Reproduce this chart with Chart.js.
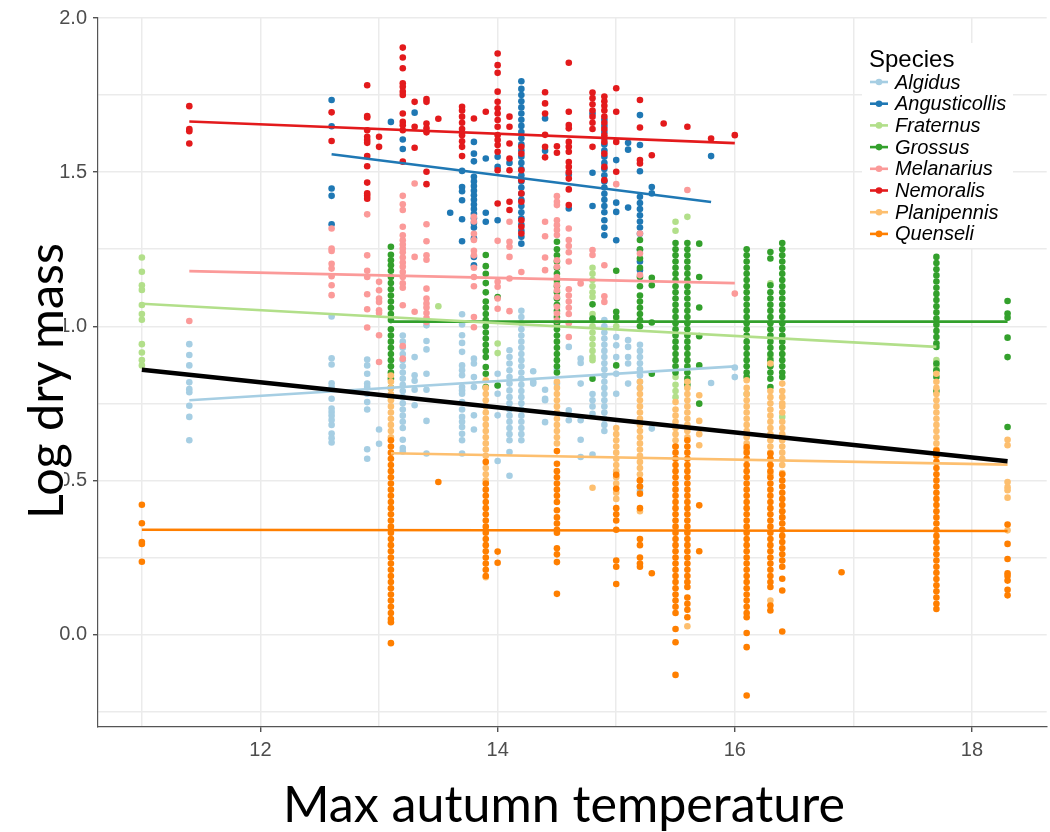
<!DOCTYPE html>
<html>
<head>
<meta charset="utf-8">
<script src="https://cdn.jsdelivr.net/npm/chart.js@4.4.1/dist/chart.umd.min.js"></script>
<style>
  html, body { margin: 0; padding: 0; background: #fff; }
  #wrap { width: 1050px; height: 832px; }
</style>
</head>
<body>
<div id="wrap"><canvas id="chart" width="1050" height="832"></canvas></div>
<script>
// Log dry mass against max autumn temperature, one column of values per site temperature

const species = ['Algidus', 'Angusticollis', 'Fraternus', 'Grossus', 'Melanarius', 'Nemoralis', 'Planipennis', 'Quenseli'];
const colors = ['#a6cee3', '#1f78b4', '#b2df8a', '#33a02c', '#fb9a99', '#e31a1c', '#fdbf6f', '#ff7f00'];

// [temperature, [log dry mass, ...]]
const algidus = [
    [11.4, [0.942, 0.907, 0.873, 0.818, 0.796, 0.786, 0.742, 0.706, 0.630]],
    [12.6, [1.032, 0.896, 0.876, 0.815, 0.803, 0.765, 0.733, 0.722, 0.710, 0.696, 0.680, 0.652, 0.637, 0.623]],
    [12.9, [0.892, 0.873, 0.846, 0.814, 0.803, 0.781, 0.754, 0.730, 0.601, 0.570]],
    [13.0, [0.665, 0.619]],
    [13.2, [0.97, 0.95, 0.93, 0.91, 0.89, 0.87, 0.85, 0.83, 0.81, 0.79, 0.77, 0.75, 0.73, 0.71, 0.69, 0.67, 0.632, 0.605, 0.594]],
    [13.3, [0.900, 0.841, 0.823, 0.794, 0.744]],
    [13.4, [1.003, 0.952, 0.925, 0.846, 0.794, 0.693, 0.587]],
    [13.7, [1.039, 1.006, 0.971, 0.946, 0.917, 0.873, 0.857, 0.841, 0.803, 0.792, 0.781, 0.754, 0.730, 0.706, 0.690, 0.673, 0.651, 0.630, 0.587]],
    [13.8, [0.895, 0.879, 0.835, 0.803, 0.711, 0.665]],
    [14.0, [0.846, 0.808, 0.781, 0.711, 0.563]],
    [14.1, [0.922, 0.900, 0.879, 0.857, 0.835, 0.814, 0.792, 0.770, 0.750, 0.730, 0.710, 0.690, 0.670, 0.650, 0.630, 0.592, 0.515]],
    [14.2, [1.05, 1.03, 1.01, 0.99, 0.97, 0.95, 0.93, 0.91, 0.89, 0.87, 0.85, 0.83, 0.81, 0.79, 0.77, 0.75, 0.73, 0.71, 0.69, 0.67, 0.65, 0.63]],
    [14.3, [0.854, 0.820, 0.814]],
    [14.4, [0.794, 0.765, 0.760, 0.689]],
    [14.5, [0.860, 0.814]],
    [14.6, [0.933, 0.727, 0.695]],
    [14.7, [0.895, 0.881, 0.814, 0.695, 0.632, 0.576]],
    [14.8, [0.780, 0.760, 0.740, 0.716, 0.584]],
    [14.9, [1.02, 1.00, 0.98, 0.96, 0.94, 0.92, 0.90, 0.88, 0.86, 0.84, 0.82, 0.80, 0.78, 0.76, 0.74, 0.72, 0.70, 0.68, 0.66]],
    [15.0, [0.965, 0.938, 0.900, 0.846, 0.781]],
    [15.1, [0.955, 0.933, 0.900, 0.879, 0.814]],
    [15.2, [0.94, 0.92, 0.90, 0.88, 0.86, 0.84, 0.82, 0.80, 0.480, 0.467]],
    [15.3, [0.668]],
    [15.8, [0.816]],
    [16.0, [0.866, 0.835]]
];

const angusticollis = [
    [12.6, [1.734, 1.649, 1.447, 1.423, 1.331]],
    [13.1, [1.663]],
    [13.2, [1.606, 1.575]],
    [13.3, [1.693]],
    [13.6, [1.368]],
    [13.7, [1.504, 1.452, 1.438, 1.409, 1.347, 1.276]],
    [13.8, [1.598, 1.560, 1.535, 1.485, 1.470, 1.455, 1.440, 1.425, 1.410, 1.395, 1.380, 1.365, 1.350, 1.335, 1.320, 1.285, 1.225, 1.198]],
    [13.9, [1.544, 1.368, 1.339]],
    [14.0, [1.550, 1.517, 1.344]],
    [14.1, [1.530]],
    [14.2, [1.795, 1.77, 1.75, 1.73, 1.71, 1.69, 1.67, 1.65, 1.63, 1.61, 1.59, 1.57, 1.55, 1.53, 1.51, 1.49, 1.47, 1.45, 1.43, 1.41, 1.39, 1.37, 1.35, 1.33, 1.31, 1.29, 1.268]],
    [14.4, [1.674, 1.569]],
    [14.6, [1.492, 1.382]],
    [14.8, [1.690, 1.498, 1.390]],
    [14.9, [1.67, 1.65, 1.63, 1.61, 1.59, 1.57, 1.55, 1.53, 1.51, 1.49, 1.47, 1.45, 1.43, 1.41, 1.39, 1.37, 1.344, 1.32, 1.295]],
    [15.0, [1.539, 1.401, 1.371, 1.279]],
    [15.1, [1.595, 1.573, 1.385]],
    [15.2, [1.685, 1.588, 1.503, 1.42, 1.40, 1.38, 1.36, 1.34, 1.32, 1.30, 1.247, 1.21, 1.182]],
    [15.3, [1.452, 1.431]],
    [15.8, [1.552]]
];

const fraternus = [
    [11.0, [1.223, 1.177, 1.133, 1.118, 1.069, 1.040, 1.021, 0.942, 0.915, 0.890, 0.873]],
    [13.5, [1.065]],
    [14.0, [0.944, 0.913]],
    [14.5, [1.140]],
    [14.8, [1.19, 1.17, 1.15, 1.13, 1.11, 1.095, 1.04, 1.02, 1.00, 0.98, 0.96, 0.94, 0.92, 0.90, 0.89]],
    [15.0, [1.02, 1.00]],
    [15.5, [1.339, 1.310, 0.835, 0.810, 0.790, 0.770]],
    [15.6, [1.355]],
    [16.1, [1.130, 0.780]],
    [16.3, [1.139, 0.900]],
    [16.4, [0.930, 0.910, 0.706]],
    [17.7, [0.890, 0.870, 0.857]]
];

const grossus = [
    [13.1, [1.258, 1.232, 1.214, 1.198, 1.18, 1.16, 1.14, 1.12, 1.10, 1.08, 1.06, 1.04, 1.02, 0.99, 0.97, 0.95, 0.93, 0.91, 0.89, 0.87, 0.85, 0.83, 0.80, 0.77]],
    [13.9, [1.231, 1.195, 1.17, 1.14, 1.11, 1.08, 1.06, 1.04, 1.02, 1.00, 0.98, 0.96, 0.94, 0.92, 0.90, 0.868, 0.846, 0.803]],
    [14.0, [1.095, 0.808]],
    [14.5, [1.274, 1.25, 1.23, 1.21, 1.19, 1.17, 1.15, 1.13, 1.11, 1.09, 1.07, 1.05, 1.03, 1.01, 0.99, 0.97, 0.95, 0.93, 0.91, 0.89, 0.87, 0.85]],
    [14.8, [1.071, 1.025, 0.830]],
    [15.0, [1.180, 1.047, 1.030, 0.873]],
    [15.2, [1.28, 1.25, 1.22, 1.19, 1.16, 1.13, 1.10, 1.08, 1.06, 1.04, 1.02, 1.00]],
    [15.3, [1.157, 1.133, 1.012, 0.846]],
    [15.5, [1.27, 1.25, 1.23, 1.21, 1.19, 1.17, 1.15, 1.13, 1.11, 1.09, 1.07, 1.05, 1.03, 1.01, 0.99, 0.97, 0.95, 0.93, 0.91, 0.89, 0.87, 0.85]],
    [15.6, [1.27, 1.25, 1.23, 1.21, 1.19, 1.17, 1.15, 1.13, 1.11, 1.09, 1.07, 1.05, 1.03, 1.01, 0.99, 0.97, 0.95, 0.93, 0.91, 0.89, 0.87, 0.85, 0.83, 0.81]],
    [15.7, [1.268, 1.160, 1.061, 0.968, 0.873, 0.749]],
    [16.1, [1.25, 1.23, 1.21, 1.19, 1.17, 1.15, 1.13, 1.11, 1.09, 1.07, 1.05, 1.03, 1.01, 0.99, 0.97, 0.95, 0.93, 0.91, 0.89, 0.87, 0.85, 0.835]],
    [16.3, [1.241, 1.220, 1.133, 1.11, 1.09, 1.07, 1.05, 1.03, 1.01, 0.99, 0.97, 0.95, 0.93, 0.91, 0.89, 0.87, 0.85, 0.83, 0.803]],
    [16.4, [1.27, 1.25, 1.23, 1.21, 1.19, 1.17, 1.15, 1.13, 1.11, 1.09, 1.07, 1.05, 1.03, 1.01, 0.99, 0.97, 0.95, 0.93, 0.91, 0.89, 0.87, 0.85, 0.835]],
    [17.7, [1.225, 1.205, 1.185, 1.165, 1.145, 1.125, 1.105, 1.085, 1.065, 1.045, 1.025, 1.005, 0.985, 0.965, 0.945, 0.933, 0.879, 0.857, 0.835, 0.790]],
    [18.3, [1.082, 1.041, 1.028, 0.963, 0.900, 0.673]]
];

const melanarius = [
    [11.4, [1.017]],
    [12.6, [1.317, 1.252, 1.244, 1.203, 1.187, 1.162, 1.133, 1.101]],
    [12.9, [1.363, 1.230, 1.180, 1.160, 1.104, 1.055, 0.996]],
    [13.0, [1.144, 1.117, 1.090, 1.079, 1.052, 1.043, 0.971, 0.884]],
    [13.2, [1.423, 1.396, 1.377, 1.323, 1.295, 1.279, 1.265, 1.252, 1.240, 1.223, 1.207, 1.193, 1.176, 1.160, 1.139, 1.125, 1.068, 0.936, 0.895]],
    [13.3, [1.463, 1.225, 1.047]],
    [13.4, [1.331, 1.276, 1.230, 1.216, 1.122, 1.090, 1.074, 1.061, 1.043, 1.027, 1.014]],
    [13.8, [1.355, 1.340, 1.300, 1.280, 1.245, 1.230, 1.190, 1.160, 1.130, 1.030, 0.997]],
    [14.0, [1.277, 1.144, 1.128, 1.090, 1.057]],
    [14.1, [1.339, 1.274, 1.258, 1.225, 1.155, 1.049]],
    [14.2, [1.176]],
    [14.4, [1.339, 1.292, 1.223, 1.182]],
    [14.5, [1.422, 1.404, 1.393, 1.344, 1.328, 1.312, 1.296, 1.214, 1.193, 1.160, 1.133, 1.117, 1.095, 1.063, 1.041, 1.019]],
    [14.6, [1.317, 1.280, 1.260, 1.240, 1.210, 1.120, 1.100, 1.080, 1.060, 1.040, 1.010, 0.965]],
    [14.7, [1.139]],
    [14.8, [1.247, 1.231]],
    [14.9, [1.198, 1.097, 1.079]],
    [15.0, [1.461]],
    [15.2, [1.301, 1.236, 1.166]],
    [15.6, [1.442]],
    [16.0, [1.106]]
];

const nemoralis = [
    [11.4, [1.714, 1.640, 1.633, 1.593]],
    [12.6, [1.694, 1.601]],
    [12.9, [1.782, 1.682, 1.677, 1.636, 1.615, 1.604, 1.595, 1.552, 1.519, 1.466, 1.431, 1.423, 1.414]],
    [13.0, [1.615, 1.582]],
    [13.2, [1.904, 1.872, 1.837, 1.788, 1.777, 1.761, 1.750, 1.690, 1.663, 1.652, 1.636, 1.534]],
    [13.3, [1.728, 1.647, 1.579]],
    [13.4, [1.737, 1.728, 1.658, 1.642, 1.629, 1.501, 1.461]],
    [13.5, [1.673]],
    [13.7, [1.712, 1.700, 1.680, 1.660, 1.640, 1.620, 1.600, 1.582, 1.552]],
    [13.8, [1.674]],
    [13.9, [1.696]],
    [14.0, [1.885, 1.847, 1.822, 1.761, 1.728, 1.707, 1.690, 1.669, 1.647, 1.620, 1.604, 1.588, 1.566, 1.506, 1.398]],
    [14.1, [1.680, 1.647, 1.593, 1.544, 1.506, 1.404, 1.377]],
    [14.2, [1.582, 1.560, 1.506, 1.474, 1.431, 1.404, 1.344, 1.323, 1.301]],
    [14.4, [1.759, 1.723, 1.690, 1.621, 1.582, 1.548]],
    [14.5, [1.584, 1.563]],
    [14.6, [1.855, 1.696, 1.653, 1.642, 1.598, 1.582, 1.566, 1.533, 1.517, 1.500, 1.479, 1.444, 1.393]],
    [14.8, [1.758, 1.740, 1.720, 1.700, 1.680, 1.660, 1.640, 1.582]],
    [14.9, [1.745, 1.730, 1.715, 1.700, 1.680, 1.660, 1.640, 1.620, 1.598, 1.560, 1.517, 1.474]],
    [15.0, [1.772, 1.696, 1.598, 1.501]],
    [15.2, [1.734, 1.645, 1.539, 1.528]],
    [15.3, [1.555]],
    [15.4, [1.658]],
    [15.6, [1.647]],
    [15.8, [1.609]],
    [16.0, [1.620]]
];

const planipennis = [
    [13.1, [0.84, 0.82, 0.80, 0.78, 0.76, 0.74, 0.72, 0.70, 0.68, 0.66, 0.64]],
    [13.9, [0.825, 0.80, 0.78, 0.76, 0.74, 0.72, 0.70, 0.68, 0.66, 0.64, 0.62, 0.60, 0.58, 0.54, 0.52, 0.50, 0.186]],
    [14.5, [0.82, 0.80, 0.78, 0.76, 0.74, 0.72, 0.70, 0.68, 0.66, 0.64, 0.62]],
    [14.8, [0.476]],
    [15.0, [0.67, 0.65, 0.63, 0.61, 0.59, 0.57, 0.55, 0.53, 0.51, 0.49, 0.46, 0.44]],
    [15.2, [0.82, 0.80, 0.78, 0.76, 0.74, 0.72, 0.70, 0.68, 0.66, 0.64, 0.62, 0.60, 0.58, 0.56, 0.54, 0.52, 0.50, 0.40]],
    [15.5, [0.754, 0.73, 0.71, 0.69, 0.67, 0.65, 0.63, 0.61]],
    [15.6, [0.82, 0.80, 0.78, 0.76, 0.74, 0.72, 0.70, 0.68, 0.66, 0.64, 0.027]],
    [15.7, [0.776, 0.693, 0.650, 0.614]],
    [16.1, [0.825, 0.80, 0.78, 0.76, 0.74, 0.72, 0.70, 0.68, 0.66, 0.64, 0.62, 0.60]],
    [16.3, [0.879, 0.79, 0.77, 0.75, 0.73, 0.71, 0.69, 0.67, 0.65, 0.63, 0.61, 0.59, 0.57, 0.55, 0.52, 0.11]],
    [16.4, [0.814, 0.79, 0.77, 0.75, 0.74, 0.72, 0.69, 0.67, 0.65, 0.63, 0.61, 0.59, 0.57, 0.55, 0.524, 0.40, 0.38]],
    [17.7, [0.846, 0.82, 0.80, 0.78, 0.76, 0.74, 0.72, 0.70, 0.68, 0.66, 0.64, 0.62, 0.60, 0.587]],
    [18.3, [0.632, 0.614, 0.495, 0.478, 0.468, 0.444, 0.338]]
];

const quenseli = [
    [11.0, [0.421, 0.361, 0.300, 0.294, 0.236]],
    [13.1, [0.63, 0.61, 0.59, 0.57, 0.55, 0.53, 0.51, 0.49, 0.47, 0.45, 0.43, 0.41, 0.39, 0.37, 0.35, 0.33, 0.31, 0.29, 0.27, 0.25, 0.23, 0.21, 0.19, 0.17, 0.15, 0.13, 0.11, 0.09, 0.07, 0.05, 0.04, -0.028]],
    [13.5, [0.495]],
    [13.9, [0.56, 0.49, 0.47, 0.45, 0.43, 0.41, 0.39, 0.37, 0.35, 0.33, 0.31, 0.29, 0.27, 0.25, 0.23, 0.21, 0.19]],
    [14.0, [0.269, 0.233]],
    [14.5, [0.595, 0.554, 0.53, 0.51, 0.49, 0.47, 0.45, 0.43, 0.403, 0.38, 0.36, 0.34, 0.33, 0.28, 0.26, 0.235, 0.132]],
    [15.0, [0.518, 0.473, 0.41, 0.39, 0.37, 0.34, 0.24, 0.22, 0.164]],
    [15.2, [0.50, 0.48, 0.457, 0.41, 0.31, 0.29, 0.25, 0.23, 0.22]],
    [15.3, [0.199]],
    [15.5, [0.61, 0.59, 0.57, 0.55, 0.53, 0.51, 0.49, 0.47, 0.45, 0.43, 0.41, 0.39, 0.37, 0.35, 0.33, 0.31, 0.29, 0.27, 0.25, 0.23, 0.21, 0.19, 0.17, 0.15, 0.13, 0.11, 0.09, 0.07, 0.018, -0.025, -0.131]],
    [15.6, [0.63, 0.61, 0.59, 0.57, 0.55, 0.53, 0.51, 0.49, 0.47, 0.45, 0.43, 0.41, 0.39, 0.37, 0.35, 0.33, 0.31, 0.29, 0.27, 0.25, 0.23, 0.21, 0.19, 0.17, 0.154, 0.12, 0.10, 0.08, 0.056]],
    [15.7, [0.419, 0.270]],
    [16.1, [0.608, 0.59, 0.57, 0.55, 0.53, 0.51, 0.49, 0.47, 0.45, 0.43, 0.41, 0.39, 0.37, 0.35, 0.33, 0.31, 0.29, 0.27, 0.25, 0.23, 0.21, 0.19, 0.17, 0.15, 0.13, 0.11, 0.09, 0.07, 0.056, 0.005, -0.041, -0.198]],
    [16.3, [0.587, 0.57, 0.55, 0.53, 0.51, 0.49, 0.47, 0.45, 0.43, 0.41, 0.39, 0.37, 0.35, 0.33, 0.31, 0.29, 0.27, 0.25, 0.23, 0.21, 0.19, 0.17, 0.154, 0.094, 0.078]],
    [16.4, [0.52, 0.50, 0.48, 0.46, 0.44, 0.42, 0.40, 0.38, 0.36, 0.34, 0.32, 0.30, 0.28, 0.26, 0.24, 0.22, 0.181, 0.143, 0.010]],
    [16.9, [0.202]],
    [17.7, [0.597, 0.58, 0.56, 0.54, 0.52, 0.50, 0.48, 0.46, 0.44, 0.42, 0.40, 0.38, 0.36, 0.34, 0.32, 0.30, 0.28, 0.26, 0.24, 0.22, 0.20, 0.18, 0.16, 0.14, 0.12, 0.10, 0.083]],
    [18.3, [0.357, 0.294, 0.245, 0.199, 0.190, 0.175, 0.145, 0.127]]
];

// fitted line per species: temperature range and fitted log mass at both ends
const fitX0 = [11.4, 12.6, 11.0, 13.1, 11.4, 11.4, 13.1, 11.0];
const fitX1 = [16.0, 15.8, 17.7, 18.3, 16.0, 16.0, 18.3, 18.3];
const fitY0 = [0.760, 1.558, 1.073, 1.015, 1.179, 1.664, 0.588, 0.340];
const fitY1 = [0.870, 1.403, 0.933, 1.015, 1.140, 1.594, 0.551, 0.336];
// pooled fit over all species
const allFitX = [11.0, 18.3];
const allFitY = [0.859, 0.562];

// grid lines every 1 degree / 0.25, labels only on these
const xGrid = [11, 12, 13, 14, 15, 16, 17, 18];
const xLabels = [12, 14, 16, 18];
const yGrid = [-0.25, 0.0, 0.25, 0.5, 0.75, 1.0, 1.25, 1.5, 1.75, 2.0];
const yLabels = [0.0, 0.5, 1.0, 1.5, 2.0];

const columns = [algidus, angusticollis, fraternus, grossus, melanarius, nemoralis, planipennis, quenseli];

function toPoints(cols) {
    const pts = [];
    cols.forEach(([t, ys]) => ys.forEach(y => pts.push({x: t, y: y})));
    return pts;
}

const isLabel = (list, v) => list.some(t => Math.abs(t - v) < 1e-6);

const datasets = [];
species.forEach((name, i) => {
    datasets.push({
        label: name,
        data: toPoints(columns[i]),
        pointBackgroundColor: colors[i],
        pointBorderWidth: 0,
        pointRadius: 3.3,
        pointHoverRadius: 3.3,
        order: 20 - i
    });
});
species.forEach((name, i) => {
    datasets.push({
        label: name + ' fit',
        data: [{x: fitX0[i], y: fitY0[i]}, {x: fitX1[i], y: fitY1[i]}],
        showLine: true,
        borderColor: colors[i],
        borderWidth: 2.6,
        pointRadius: 0,
        order: 2
    });
});
datasets.push({
    label: 'All species',
    data: allFitX.map((x, k) => ({x: x, y: allFitY[k]})),
    showLine: true,
    borderColor: '#000',
    borderWidth: 4.5,
    pointRadius: 0,
    order: 0
});

// axis titles and the legend sit on top of the plot, the way they do on the slide
const overlay = {
    id: 'overlay',
    afterDraw(chart) {
        const c = chart.ctx;
        c.save();

        // y title, on a white patch that hides part of the tick labels
        c.fillStyle = '#fff';
        c.fillRect(0, 236, 64, 292);
        c.fillStyle = '#000';
        let yTitle = 'Log dry mass';
        c.font = '50px Lato';
        let s = 50 * 276 / c.measureText(yTitle).width;
        c.font = s.toFixed(1) + 'px Lato';
        c.translate(63, 381);
        c.rotate(-Math.PI / 2);
        c.textAlign = 'center';
        c.textBaseline = 'alphabetic';
        c.fillText(yTitle, 0, 0);
        c.setTransform(1, 0, 0, 1, 0, 0);

        let xTitle = 'Max autumn temperature';
        c.font = '50px Lato';
        s = 50 * 562 / c.measureText(xTitle).width;
        c.font = s.toFixed(1) + 'px Lato';
        c.textAlign = 'center';
        c.fillText(xTitle, 564, 822);

        // legend
        c.fillStyle = '#fff';
        c.fillRect(862, 43, 151, 205);
        c.fillStyle = '#000';
        c.textAlign = 'left';
        c.textBaseline = 'alphabetic';
        c.font = '24px "Liberation Sans"';
        c.fillText('Species', 869, 67);
        c.font = 'italic 20px "Liberation Sans"';
        c.textBaseline = 'middle';
        species.forEach((name, i) => {
            const y = 82 + i * 21.7;
            c.strokeStyle = colors[i];
            c.lineWidth = 2.6;
            c.beginPath();
            c.moveTo(870, y);
            c.lineTo(888, y);
            c.stroke();
            c.fillStyle = colors[i];
            c.beginPath();
            c.arc(879, y, 3.3, 0, Math.PI * 2);
            c.fill();
            c.fillStyle = '#000';
            c.fillText(name, 895, y + 1);
        });
        c.restore();
    }
};

new Chart(document.getElementById('chart'), {
    type: 'scatter',
    data: {datasets: datasets},
    plugins: [overlay],
    options: {
        responsive: false,
        devicePixelRatio: 1,
        animation: false,
        events: [],
        layout: {padding: {top: 17, right: 0, left: 0, bottom: 0}},
        plugins: {legend: {display: false}, tooltip: {enabled: false}},
        scales: {
            x: {
                type: 'linear',
                min: 10.63,
                max: 18.63,
                afterFit: scale => { scale.height = 105; },
                afterBuildTicks: scale => { scale.ticks = xGrid.map(v => ({value: v})); },
                border: {display: true, color: '#555', width: 1.2},
                grid: {
                    color: '#ebebeb',
                    lineWidth: 1.5,
                    tickLength: 5,
                    tickColor: ctx => isLabel(xLabels, ctx.tick.value) ? '#333' : 'rgba(0,0,0,0)',
                    tickWidth: 1.2
                },
                ticks: {
                    maxRotation: 0,
                    autoSkip: false,
                    padding: 6,
                    color: '#4d4d4d',
                    font: {family: 'Liberation Sans', size: 20},
                    callback: v => isLabel(xLabels, v) ? String(v) : ''
                }
            },
            y: {
                type: 'linear',
                min: -0.30,
                max: 2.0,
                afterFit: scale => { scale.width = 98; },
                afterBuildTicks: scale => { scale.ticks = yGrid.map(v => ({value: v})); },
                border: {display: true, color: '#555', width: 1.2},
                grid: {
                    color: '#ebebeb',
                    lineWidth: 1.5,
                    tickLength: 5,
                    tickColor: ctx => isLabel(yLabels, ctx.tick.value) ? '#333' : 'rgba(0,0,0,0)',
                    tickWidth: 1.2
                },
                ticks: {
                    autoSkip: false,
                    padding: 6,
                    color: '#4d4d4d',
                    font: {family: 'Liberation Sans', size: 20},
                    callback: v => isLabel(yLabels, v) ? v.toFixed(1) : ''
                }
            }
        }
    }
});
</script>
</body>
</html>
